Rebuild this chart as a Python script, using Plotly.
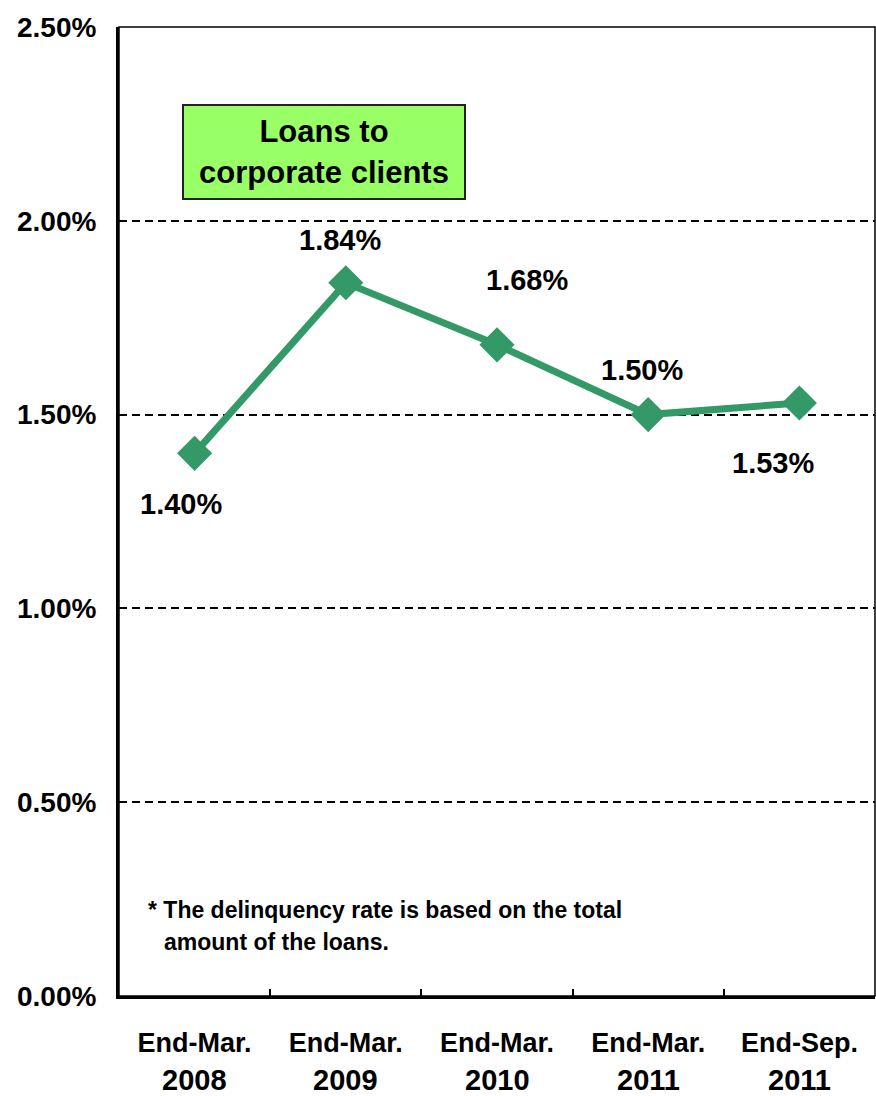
import plotly.graph_objects as go

months = ["End-Mar.", "End-Mar.", "End-Mar.", "End-Mar.", "End-Sep."]
years = ["2008", "2009", "2010", "2011", "2011"]
categories = [f"{m} {y}" for m, y in zip(months, years)]
rates = [1.40, 1.84, 1.68, 1.50, 1.53]
ytick_vals = [0.0, 0.5, 1.0, 1.5, 2.0, 2.5]
ytick_text = [f"{v:.2f}%" for v in ytick_vals]
label_shift_x = [-14, -6, 30, -6, -26]
label_shift_y = [-51, 43, 65, 45, -60]

GREEN = "#339966"
FONT = "Liberation Sans, Arial, sans-serif"

fig = go.Figure()
fig.add_trace(go.Scatter(
    x=categories, y=rates, mode="lines+markers",
    line=dict(color=GREEN, width=7),
    marker=dict(symbol="diamond", size=27, color=GREEN),
    showlegend=False, cliponaxis=False,
))

annotations = []
for c, v, dx, dy in zip(categories, rates, label_shift_x, label_shift_y):
    annotations.append(dict(
        x=c, y=v, xref="x", yref="y", text=f"{v:.2f}%", showarrow=False,
        xshift=dx, yshift=dy, font=dict(family=FONT, size=29, color="black", weight="bold"),
    ))
for c, yr in zip(categories, years):
    annotations.append(dict(
        x=c, y=0, xref="x", yref="paper", text=yr, showarrow=False,
        yshift=-84, yanchor="middle",
        font=dict(family=FONT, size=29, color="black", weight="bold"),
    ))
annotations.append(dict(
    x=0.271, y=0.871, xref="paper", yref="paper",
    text="Loans to<br>corporate clients", showarrow=False,
    xanchor="center", yanchor="middle",
    bgcolor="#99FF66", bordercolor="#222222", borderwidth=2, borderpad=4,
    width=272, height=84,
    font=dict(family=FONT, size=31, color="black", weight="bold"),
))
annotations.append(dict(
    x=(146 - 119) / 756, y=(996 - 910) / 969, xref="paper", yref="paper",
    text="* The delinquency rate is based on the total",
    showarrow=False, xanchor="left", yanchor="middle",
    font=dict(family=FONT, size=23, color="black", weight="bold"),
))
annotations.append(dict(
    x=(162 - 119) / 756, y=(996 - 942) / 969, xref="paper", yref="paper",
    text="amount of the loans.", showarrow=False, xanchor="left", yanchor="middle",
    font=dict(family=FONT, size=23, color="black", weight="bold"),
))

fig.update_layout(
    width=876, height=1096,
    margin=dict(l=119, r=1, t=27, b=100),
    paper_bgcolor="white", plot_bgcolor="white",
    font=dict(family=FONT, color="black"),
    annotations=annotations,
    shapes=[dict(type="rect", xref="paper", yref="paper", x0=0, x1=1, y0=0, y1=1,
                 line=dict(color="black", width=1.5))],
)
fig.update_xaxes(
    type="category", categoryorder="array", categoryarray=categories,
    tickvals=categories, ticktext=months, range=[-0.5, 4.5],
    tickson="boundaries", ticks="inside", ticklen=7, tickwidth=2, tickcolor="black",
    showline=True, linecolor="black", linewidth=3, showgrid=False,
    ticklabelstandoff=21,
    tickfont=dict(family=FONT, size=27, color="black", weight="bold"),
)
fig.update_yaxes(
    range=[0, 2.5], tickvals=ytick_vals, ticktext=ytick_text,
    ticks="inside", ticklen=7, tickwidth=2, tickcolor="black",
    showline=True, linecolor="black", linewidth=3,
    showgrid=True, gridcolor="black", gridwidth=2, griddash="8px,5px",
    zeroline=False, ticklabelstandoff=14,
    tickfont=dict(family=FONT, size=28, color="black", weight="bold"),
)

fig.write_html("out.html")
